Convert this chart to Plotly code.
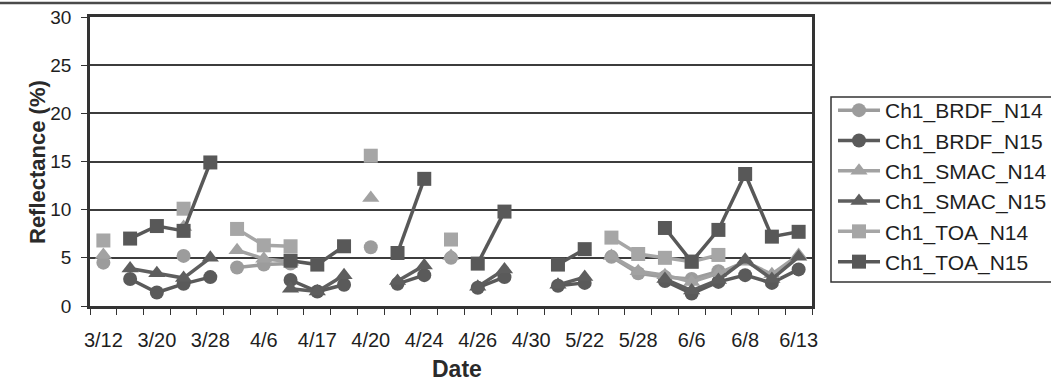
import plotly.graph_objects as go

positions = list(range(27))
tick_positions = [0, 2, 4, 6, 8, 10, 12, 14, 16, 18, 20, 22, 24, 26]
tick_labels = ["3/12", "3/20", "3/28", "4/6", "4/17", "4/20", "4/24", "4/26",
               "4/30", "5/22", "5/28", "6/6", "6/8", "6/13"]

N = None
brdf_n14 = [4.5, N, N, 5.2, N, 4.0, 4.3, 4.4, N, N, 6.1, N, N, 5.0, N, N, N, N, N,
            5.1, 3.4, 3.0, 2.8, 3.6, N, N, N]
brdf_n15 = [N, 2.8, 1.4, 2.3, 3.0, N, N, 2.7, 1.5, 2.2, N, 2.3, 3.2, N, 1.9, 3.0, N,
            2.1, 2.4, N, N, 2.6, 1.3, 2.5, 3.2, 2.4, 3.8]
smac_n14 = [5.3, N, N, 8.2, N, 5.8, 4.9, 4.6, N, N, 11.2, N, N, 5.2, N, N, N, N, N,
            5.2, 3.6, 3.2, 2.5, 3.4, 4.6, 3.3, 5.3]
smac_n15 = [N, 3.9, 3.4, 2.9, 5.0, N, N, 1.8, 1.5, 3.2, N, 2.6, 4.2, N, 2.0, 3.8, N,
            2.2, 3.0, N, N, 2.8, 1.6, 2.7, 4.8, 2.8, 5.1]
toa_n14 = [6.8, N, N, 10.1, N, 8.0, 6.3, 6.2, N, N, 15.6, N, N, 6.9, N, N, N, N, N,
           7.1, 5.4, 5.0, 4.6, 5.3, N, N, N]
toa_n15 = [N, 7.0, 8.3, 7.8, 14.9, N, N, 4.7, 4.3, 6.2, N, 5.5, 13.2, N, 4.4, 9.8, N,
           4.3, 5.9, N, N, 8.1, 4.6, 7.9, 13.7, 7.2, 7.7]

series = [
    ("Ch1_BRDF_N14", brdf_n14, "circle", "#9c9c9c"),
    ("Ch1_BRDF_N15", brdf_n15, "circle", "#5a5a5a"),
    ("Ch1_SMAC_N14", smac_n14, "triangle-up", "#a2a2a2"),
    ("Ch1_SMAC_N15", smac_n15, "triangle-up", "#5e5e5e"),
    ("Ch1_TOA_N14", toa_n14, "square", "#a6a6a6"),
    ("Ch1_TOA_N15", toa_n15, "square", "#585858"),
]

fig = go.Figure()
for name, vals, sym, col in series:
    fig.add_trace(go.Scatter(
        x=positions, y=vals, name=name, mode="lines+markers",
        line=dict(color=col, width=3.5),
        marker=dict(symbol=sym, size=14 if sym != "triangle-up" else 15, color=col),
        legendgroup=name, connectgaps=False,
    ))

font_family = "Liberation Sans, Arial, sans-serif"

# plot area in page pixels: x 90..812, y 17..306
PX0, PX1, PY0, PY1 = 90, 812, 17, 306
def px(x):
    return (x - PX0) / (PX1 - PX0)
def py(y):
    return (PY1 - y) / (PY1 - PY0)

fig.update_layout(
    width=1051, height=385,
    margin=dict(l=PX0, r=1051 - PX1, t=PY0, b=385 - PY1, autoexpand=False),
    paper_bgcolor="white", plot_bgcolor="white",
    font=dict(family=font_family, color="#1e1e1e"),
    showlegend=True,
    legend=dict(
        x=px(833), xanchor="left",
        y=py(90), yanchor="top",
        borderwidth=0, bgcolor="rgba(0,0,0,0)",
        font=dict(size=21, family=font_family, color="#1e1e1e"),
        tracegroupgap=0, traceorder="grouped",
        itemwidth=42,
    ),
    xaxis=dict(
        range=[-0.5, 26.5], tickmode="array", tickvals=tick_positions,
        ticktext=tick_labels, ticks="", showgrid=False, zeroline=False,
        showline=True, linecolor="#333333", linewidth=2.5, mirror=True,
        tickfont=dict(size=20), ticklabelstandoff=14, automargin=False,
        minor=dict(ticks="outside", tick0=-0.5, dtick=1, ticklen=6,
                   tickcolor="#333333", tickwidth=1.2, showgrid=False),
    ),
    yaxis=dict(
        range=[0, 30], dtick=5, ticks="outside", ticklen=6, tickcolor="#333333",
        tickwidth=1.2, showgrid=True, gridcolor="#3c3c3c", gridwidth=1.5,
        zeroline=False, showline=True, linecolor="#333333", linewidth=2.5,
        mirror=True, tickfont=dict(size=19), ticklabelstandoff=6, automargin=False,
    ),
)

# axis titles
fig.add_annotation(text="<b>Date</b>", xref="paper", yref="paper",
                   x=px(457), y=py(369), showarrow=False,
                   xanchor="center", yanchor="middle",
                   font=dict(size=23, color="#2a2a2a"))
fig.add_annotation(text="<b>Reflectance (%)</b>", xref="paper", yref="paper",
                   x=px(37), y=py(162), showarrow=False, textangle=-90,
                   xanchor="center", yanchor="middle",
                   font=dict(size=22, color="#2a2a2a"))

# legend frame
fig.add_shape(type="rect", xref="paper", yref="paper",
              x0=px(831), x1=px(1062), y0=py(282), y1=py(97),
              line=dict(color="#333333", width=1.5), fillcolor="rgba(0,0,0,0)",
              layer="above")

# scanned page top rule
fig.add_shape(type="line", xref="paper", yref="paper",
              x0=px(0), x1=px(1051), y0=py(3), y1=py(3),
              line=dict(color="#4a4a4a", width=2.5))

fig.write_html("out.html", config={"displayModeBar": False},
               post_script="document.body.style.margin='0';")
